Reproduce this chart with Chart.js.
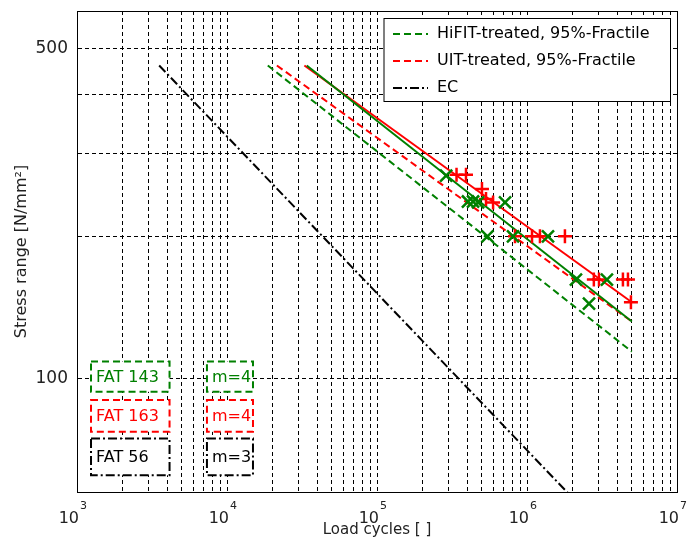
<!DOCTYPE html>
<html>
<head>
<meta charset="utf-8">
<script src="https://cdn.jsdelivr.net/npm/chart.js@4"></script>
<style>
  html, body { margin: 0; background: #fff; }
  #wrap { width: 688px; height: 543px; }
</style>
</head>
<body>
<div id="wrap"><canvas id="c"></canvas></div>
<script>
// tick positions
const xTickVals = [1e3,2e3,3e3,4e3,5e3,6e3,7e3,8e3,9e3,
                   1e4,2e4,3e4,4e4,5e4,6e4,7e4,8e4,9e4,
                   1e5,2e5,3e5,4e5,5e5,6e5,7e5,8e5,9e5,
                   1e6,2e6,3e6,4e6,5e6,6e6,7e6,8e6,9e6,1e7];
const xDecades = [1e3, 1e4, 1e5, 1e6, 1e7];
const xExponents = ['3', '4', '5', '6', '7'];
const yTickVals = [100, 200, 300, 400, 500];
const yLabelled = [100, 500];

// test results (load cycles, stress range)
const hifitN = [289e3, 404e3, 437e3, 472e3, 714e3, 545e3, 807e3, 1.38e6, 2.12e6, 3.41e6, 2.59e6];
const hifitS = [269, 237, 237, 236, 236, 200, 200, 200, 162, 162, 144];
const uitN = [339e3, 392e3, 501e3, 533e3, 594e3, 832e3, 1.08e6, 1.22e6, 1.79e6, 2.79e6, 3.02e6, 4.36e6, 4.71e6, 4.93e6];
const uitS = [270, 270, 252, 240, 236, 200, 200, 200, 200, 162, 162, 162, 162, 145];

// S-N lines
const hifitMeanN = [34000, 5e6];  const hifitMeanS = [460, 132];
const uitMeanN   = [32800, 5e6];  const uitMeanS   = [460, 145];
const hifit95N   = [18700, 5e6];  const hifit95S   = [460, 114];
const uit95N     = [21500, 5e6];  const uit95S     = [460, 132];
const ecN        = [3530, 2e6];   const ecS        = [460, 56];

// FAT / slope labels
const fatLabels = ['FAT 143', 'FAT 163', 'FAT 56'];
const slopeLabels = ['m=4', 'm=4', 'm=3'];

const GREEN = 'rgb(0,128,0)', RED = 'rgb(255,0,0)', BLACK = '#000';
const DASH = [7, 4], DASHDOT = [9, 3, 2, 3];
const FONT = '"DejaVu Sans", sans-serif';

const pts = (xs, ys) => xs.map((v, i) => ({x: v, y: ys[i]}));

const boxStyles = [
  {color: GREEN, dash: DASH, top: 108.7, bottom: 93.7},
  {color: RED, dash: DASH, top: 90.0, bottom: 77.1},
  {color: BLACK, dash: DASHDOT, top: 74.6, bottom: 62.4}
];

const decor = {
  id: 'decor',
  afterDatasetsDraw(chart) {
    const {ctx, chartArea: a, scales: {x, y}} = chart;
    ctx.save();
    // frame
    ctx.strokeStyle = '#000';
    ctx.lineWidth = 1;
    ctx.setLineDash([]);
    ctx.strokeRect(Math.round(a.left) + 0.5, Math.round(a.top) + 0.5,
                   Math.round(a.right - a.left), Math.round(a.bottom - a.top));

    // x tick labels 10^n
    ctx.fillStyle = '#222';
    xDecades.forEach((v, i) => {
      const px = x.getPixelForValue(v);
      ctx.font = '16px ' + FONT;
      ctx.textAlign = 'right';
      ctx.textBaseline = 'middle';
      ctx.fillText('10', px + 2, a.bottom + 27);
      ctx.font = '11px ' + FONT;
      ctx.textAlign = 'left';
      ctx.fillText(xExponents[i], px + 3, a.bottom + 14);
    });

    // FAT / m boxes
    boxStyles.forEach((b, i) => {
      const t = y.getPixelForValue(b.top), bt = y.getPixelForValue(b.bottom);
      [[1240, 4140, fatLabels[i]], [7350, 14900, slopeLabels[i]]].forEach(([n0, n1, txt]) => {
        const l = x.getPixelForValue(n0), r = x.getPixelForValue(n1);
        ctx.setLineDash([]);
        ctx.fillStyle = '#fff';
        ctx.fillRect(l, t, r - l, bt - t);
        ctx.setLineDash(b.dash);
        ctx.strokeStyle = b.color;
        ctx.lineWidth = 2;
        ctx.strokeRect(l, t, r - l, bt - t);
        ctx.fillStyle = b.color;
        ctx.font = '16px ' + FONT;
        ctx.textAlign = 'left';
        ctx.textBaseline = 'middle';
        ctx.fillText(txt, l + 5, (t + bt) / 2 + 1);
      });
    });

    // legend
    const lg = {l: 384, t: 18.5, r: 670.5, b: 101.5};
    ctx.setLineDash([]);
    ctx.fillStyle = '#fff';
    ctx.fillRect(lg.l, lg.t, lg.r - lg.l, lg.b - lg.t);
    ctx.strokeStyle = '#000';
    ctx.lineWidth = 1;
    ctx.strokeRect(lg.l, lg.t, lg.r - lg.l, lg.b - lg.t);
    const items = chart.data.datasets.filter(d => d.inLegend);
    items.forEach((d, i) => {
      const yy = 34 + i * 27;
      ctx.strokeStyle = d.borderColor;
      ctx.lineWidth = 2;
      ctx.setLineDash(d.borderDash);
      ctx.beginPath();
      ctx.moveTo(lg.l + 9, yy);
      ctx.lineTo(lg.l + 44, yy);
      ctx.stroke();
      ctx.fillStyle = '#000';
      ctx.font = '16px ' + FONT;
      ctx.textAlign = 'left';
      ctx.textBaseline = 'middle';
      ctx.fillText(d.label, lg.l + 53, yy);
    });
    ctx.restore();
  }
};

new Chart(document.getElementById('c'), {
  type: 'scatter',
  data: {
    datasets: [
      {label: 'HiFIT-treated', data: pts(hifitN, hifitS), pointStyle: 'crossRot', pointRadius: 8.5,
       borderColor: GREEN, backgroundColor: GREEN, pointBorderWidth: 2.5, showLine: false},
      {label: 'UIT-treated', data: pts(uitN, uitS), pointStyle: 'cross', pointRadius: 7,
       borderColor: RED, backgroundColor: RED, pointBorderWidth: 2.5, showLine: false},
      {label: 'HiFIT mean', data: pts(hifitMeanN, hifitMeanS), showLine: true, pointRadius: 0,
       borderColor: GREEN, borderWidth: 2},
      {label: 'UIT mean', data: pts(uitMeanN, uitMeanS), showLine: true, pointRadius: 0,
       borderColor: RED, borderWidth: 2},
      {label: 'HiFIT-treated, 95%-Fractile', data: pts(hifit95N, hifit95S), showLine: true, pointRadius: 0,
       borderColor: GREEN, borderWidth: 2, borderDash: DASH, inLegend: true},
      {label: 'UIT-treated, 95%-Fractile', data: pts(uit95N, uit95S), showLine: true, pointRadius: 0,
       borderColor: RED, borderWidth: 2, borderDash: DASH, inLegend: true},
      {label: 'EC', data: pts(ecN, ecS), showLine: true, pointRadius: 0,
       borderColor: BLACK, borderWidth: 2, borderDash: DASHDOT, inLegend: true}
    ]
  },
  options: {
    responsive: true,
    maintainAspectRatio: false,
    animation: false,
    layout: {padding: {top: 11, right: 11, left: 0, bottom: 0}},
    plugins: {legend: {display: false}, tooltip: {enabled: false}},
    scales: {
      x: {
        type: 'logarithmic', min: 1e3, max: 1e7,
        afterBuildTicks: s => { s.ticks = xTickVals.map(v => ({value: v})); },
        afterFit: s => { s.height = 51; s.paddingLeft = 0; s.paddingRight = 0; },
        ticks: {display: false},
        grid: {color: '#000', lineWidth: 1, drawTicks: false},
        border: {display: true, color: '#000', width: 1, dash: [4, 3]},
        title: {display: true, text: 'Load cycles [ ]', color: '#222',
                font: {family: FONT, size: 15}, padding: {top: 0, bottom: 4}}
      },
      y: {
        type: 'logarithmic', min: 57.5, max: 600,
        afterBuildTicks: s => { s.ticks = yTickVals.map(v => ({value: v})); },
        afterFit: s => { s.width = 77; s.paddingTop = 0; s.paddingBottom = 0; },
        ticks: {color: '#222', font: {family: FONT, size: 17}, padding: 9,
                callback: v => yLabelled.includes(v) ? String(v) : ''},
        grid: {color: '#000', lineWidth: 1, drawTicks: false},
        border: {display: true, color: '#000', width: 1, dash: [4, 3]},
        title: {display: true, text: 'Stress range [N/mm²]', color: '#222',
                font: {family: FONT, size: 16}, padding: {top: 12, bottom: 0}}
      }
    }
  },
  plugins: [decor]
});
</script>
</body>
</html>
